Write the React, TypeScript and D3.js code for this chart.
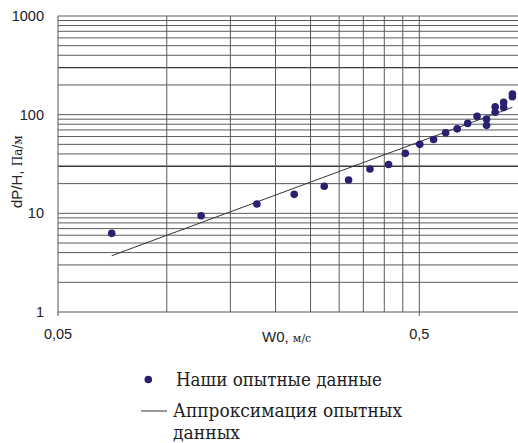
import React, { useEffect, useRef } from "react";
import * as d3 from "d3";

// experimental points: W0, m/s  ->  dP/H, Pa/m
const speedW0 = [
  0.0704, 0.1245, 0.1776, 0.2253, 0.2728, 0.3186, 0.3651, 0.4111, 0.4574,
  0.5016, 0.5477, 0.5914, 0.6365, 0.6805, 0.7226, 0.7676, 0.7676, 0.8109,
  0.8109, 0.856, 0.856, 0.905, 0.905,
];
const pressureDrop = [
  6.27, 9.46, 12.42, 15.58, 18.82, 21.75, 28.1, 31.22, 40.54, 50.0, 55.95,
  65.4, 71.8, 81.6, 96.3, 90.2, 77.9, 120.2, 105.8, 133.2, 118.0, 161.7, 151.9,
];

// approximation line (straight in log-log)
const approxW0 = [0.0704, 0.905];
const approxDP = [3.72, 118.6];

const yTickValues = [1, 10, 100, 1000];
const xTickValues = [0.05, 0.5];
const xTickLabels = ["0,05", "0,5"];
const xGridValues = [0.1, 0.15, 0.2, 0.25, 0.3, 0.35, 0.4, 0.45, 0.5];
const boldGrid = [30, 300];

const sans = "Liberation Sans, Arial, sans-serif";
const serif = "DejaVu Serif, serif";
const dotColor = "#282070";

const App = () => {
  const ref = useRef<SVGSVGElement | null>(null);

  useEffect(() => {
    const svg = d3.select(ref.current);
    svg.selectAll("*").remove();

    const x = d3.scaleLog().domain([0.05, 0.5]).range([58, 419.3]);
    const y = d3.scaleLog().domain([1, 1000]).range([312, 16]);
    const xMax = x(1);

    const yGrid: number[] = [];
    [1, 10, 100].forEach((d) => {
      for (let k = 2; k <= 10; k++) yGrid.push(k * d);
    });

    const grid = svg.append("g");
    grid
      .selectAll("line.h")
      .data(yGrid)
      .enter()
      .append("line")
      .attr("x1", x(0.05))
      .attr("x2", xMax)
      .attr("y1", (d) => y(d))
      .attr("y2", (d) => y(d))
      .attr("stroke", (d) => (boldGrid.includes(d) ? "#3a3a3a" : "#5a5a5a"))
      .attr("stroke-width", (d) => (boldGrid.includes(d) ? 1.3 : 1));

    grid
      .selectAll("line.v")
      .data(xGridValues)
      .enter()
      .append("line")
      .attr("x1", (d) => x(d))
      .attr("x2", (d) => x(d))
      .attr("y1", y(1000))
      .attr("y2", (d) => (d === 0.5 ? y(1) + 4 : y(1)))
      .attr("stroke", "#5a5a5a")
      .attr("stroke-width", 1);

    // axes
    svg
      .append("line")
      .attr("x1", x(0.05))
      .attr("x2", x(0.05))
      .attr("y1", y(1000))
      .attr("y2", y(1) + 4)
      .attr("stroke", "#555");
    svg
      .append("line")
      .attr("x1", x(0.05))
      .attr("x2", xMax)
      .attr("y1", y(1))
      .attr("y2", y(1))
      .attr("stroke", "#555");

    svg
      .selectAll("text.yt")
      .data(yTickValues)
      .enter()
      .append("text")
      .attr("x", 44)
      .attr("y", (d) => y(d) + 5)
      .attr("text-anchor", "end")
      .attr("font-family", sans)
      .attr("font-size", 14.5)
      .attr("fill", "#222")
      .text((d) => String(d));

    svg
      .selectAll("text.xt")
      .data(xTickValues)
      .enter()
      .append("text")
      .attr("x", (d) => x(d))
      .attr("y", 339)
      .attr("text-anchor", "middle")
      .attr("font-family", sans)
      .attr("font-size", 14.5)
      .attr("fill", "#222")
      .text((d, i) => xTickLabels[i]);

    // axis titles
    const xt = svg
      .append("text")
      .attr("x", 262)
      .attr("y", 342)
      .attr("fill", "#222");
    xt.append("tspan").attr("font-family", sans).attr("font-size", 15).text("W0, ");
    xt.append("tspan").attr("font-family", serif).attr("font-size", 11).text("м/с");

    const yt = svg
      .append("text")
      .attr("transform", "translate(22,208) rotate(-90)")
      .attr("fill", "#222");
    yt.append("tspan").attr("font-family", sans).attr("font-size", 15).text("dP/H, ");
    yt.append("tspan").attr("font-family", serif).attr("font-size", 12).text("Па/м");

    // approximation
    const line = d3
      .line<number>()
      .x((d, i) => x(approxW0[i]))
      .y((d) => y(d));
    svg
      .append("path")
      .attr("d", line(approxDP) ?? "")
      .attr("fill", "none")
      .attr("stroke", "#333")
      .attr("stroke-width", 1);

    svg
      .selectAll("circle.pt")
      .data(pressureDrop)
      .enter()
      .append("circle")
      .attr("cx", (d, i) => x(speedW0[i]))
      .attr("cy", (d) => y(d))
      .attr("r", 3.8)
      .attr("fill", dotColor);

    // legend
    svg.append("circle").attr("cx", 148.3).attr("cy", 379.5).attr("r", 3.8).attr("fill", dotColor);
    const legendText = (tx: number, ty: number, len: number, s: string) =>
      svg
        .append("text")
        .attr("x", tx)
        .attr("y", ty)
        .attr("textLength", len)
        .attr("lengthAdjust", "spacingAndGlyphs")
        .attr("font-family", serif)
        .attr("font-size", 18)
        .attr("fill", "#222")
        .text(s);
    legendText(176, 386, 206, "Наши опытные данные");
    svg
      .append("line")
      .attr("x1", 141)
      .attr("x2", 167)
      .attr("y1", 411)
      .attr("y2", 411)
      .attr("stroke", "#333")
      .attr("stroke-width", 1);
    legendText(173, 417, 229, "Аппроксимация опытных");
    legendText(173, 439, 67, "данных");
  }, []);

  return (
    <div style={{ position: "absolute", left: 0, top: 0 }}>
      <svg ref={ref} width={518} height={443} style={{ display: "block", background: "#fff" }} />
    </div>
  );
};

export default App;
